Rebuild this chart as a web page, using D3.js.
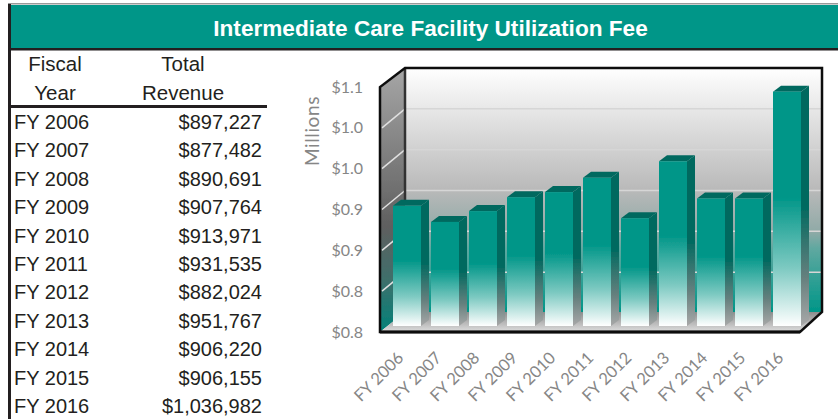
<!DOCTYPE html>
<html>
<head>
<meta charset="utf-8">
<script src="https://cdn.jsdelivr.net/npm/d3@7"></script>
<style>
html, body { margin: 0; padding: 0; background: #fff; }
svg { display: block; }
.cell { font-family: "Liberation Sans", Arial, sans-serif; font-size: 20px; fill: #231f20; }
.head { font-size: 20.5px; }
.axis-text { font-family: Lato, "Open Sans", sans-serif; fill: #868686; }
</style>
</head>
<body>
<svg id="chart" width="838" height="419"></svg>
<script>
var years = ["FY 2006", "FY 2007", "FY 2008", "FY 2009", "FY 2010", "FY 2011", "FY 2012", "FY 2013", "FY 2014", "FY 2015", "FY 2016"];
var revenue = [897227, 877482, 890691, 907764, 913971, 931535, 882024, 951767, 906220, 906155, 1036982];
var tickValues = [0.75, 0.80, 0.85, 0.90, 0.95, 1.00, 1.05];
var tickLabels = ["$0.8", "$0.8", "$0.9", "$0.9", "$1.0", "$1.0", "$1.1"];

var svg = d3.select("#chart");
var defs = svg.append("defs");

function gradient(id, stops) {
    var g = defs.append("linearGradient")
        .attr("id", id)
        .attr("x1", 0).attr("y1", 0).attr("x2", 0).attr("y2", 1);
    stops.forEach(function(s) {
        g.append("stop").attr("offset", s[0]).attr("stop-color", s[1]);
    });
}

gradient("bar-front", [[0, "#009688"], [0.45, "#009688"], [0.75, "#7cc9c1"], [1, "#ffffff"]]);
gradient("bar-side", [[0, "#00695f"], [0.5, "#00695f"], [0.8, "#66807e"], [1, "#a8a8a8"]]);
gradient("back-wall", [[0, "#ffffff"], [0.5, "#b9b9b9"], [0.67, "#90aaa7"], [0.74, "#5fa8a0"], [1, "#009688"]]);
gradient("left-wall", [[0, "#a6a6a6"], [0.6, "#5f5f5f"], [0.8, "#3f6f6b"], [1, "#008279"]]);
gradient("floor", [[0, "#8c8c8c"], [1, "#dedede"]]);
defs.append("filter").attr("id", "soft")
    .append("feGaussianBlur").attr("stdDeviation", 0.45);

// title band
svg.append("rect").attr("x", 8).attr("y", 3).attr("width", 830).attr("height", 1.5).attr("fill", "#999");
svg.append("rect").attr("x", 8).attr("y", 4).attr("width", 3).attr("height", 415).attr("fill", "#231f20");
svg.append("rect").attr("x", 11).attr("y", 5).attr("width", 827).attr("height", 43).attr("fill", "#009688");
svg.append("rect").attr("x", 8).attr("y", 48).attr("width", 830).attr("height", 2.5).attr("fill", "#231f20");
svg.append("text")
    .attr("x", 430.5).attr("y", 36)
    .attr("text-anchor", "middle")
    .attr("font-family", "Liberation Sans, Arial, sans-serif")
    .attr("font-weight", "bold")
    .attr("font-size", 22.6)
    .attr("fill", "#fff")
    .text("Intermediate Care Facility Utilization Fee");

// table
var headers = [["Fiscal", 55, 71], ["Year", 55, 100], ["Total", 183, 71], ["Revenue", 183, 100]];
svg.selectAll(".head").data(headers).enter().append("text")
    .attr("class", "cell head")
    .attr("x", function(d) { return d[1]; })
    .attr("y", function(d) { return d[2]; })
    .attr("text-anchor", "middle")
    .text(function(d) { return d[0]; });
svg.append("rect").attr("x", 11).attr("y", 105).attr("width", 256).attr("height", 3).attr("fill", "#231f20");

var rowY = d3.scalePoint().domain(years).range([129, 413]);
var money = d3.format("$,");
svg.selectAll(".year").data(years).enter().append("text")
    .attr("class", "cell year")
    .attr("x", 14)
    .attr("y", function(d) { return rowY(d); })
    .text(function(d) { return d; });
svg.selectAll(".rev").data(revenue).enter().append("text")
    .attr("class", "cell rev")
    .attr("x", 262)
    .attr("y", function(d, i) { return rowY(years[i]); })
    .attr("text-anchor", "end")
    .text(function(d) { return money(d); });

// 3d chart
var frontLeft = 380, frontRight = 800, frontTop = 87, frontBottom = 332;
var depthX = 25, depthY = 19;
var barDepthX = 8, barDepthY = 6;
var barBase = 326;
var barWidth = 28;
var x = d3.scalePoint().domain(years).range([393, 773]);
var y = d3.scaleLinear().domain([0.75, 1.05]).range([frontBottom, frontTop]);
var yBar = d3.scaleLinear().domain([0.75, 1.05]).range([barBase, barBase - (frontBottom - frontTop)]);

var plot = svg.append("g").attr("filter", "url(#soft)");

function poly(points, fill) {
    return plot.append("polygon")
        .attr("points", points.map(function(p) { return p.join(","); }).join(" "))
        .attr("fill", fill);
}

var backLeft = frontLeft + depthX, backRight = frontRight + depthX - 3;
var backTop = frontTop - depthY, backBottom = frontBottom - depthY - 1;

poly([[backLeft, backTop], [backRight, backTop], [backRight, backBottom], [backLeft, backBottom]], "url(#back-wall)");
poly([[frontLeft, frontTop], [backLeft, backTop], [backLeft, backBottom], [frontLeft, frontBottom]], "url(#left-wall)");
poly([[frontLeft, frontBottom], [backLeft, backBottom], [backRight, backBottom], [frontRight, frontBottom]], "url(#floor)");

// gridlines on walls
tickValues.slice(1, -1).forEach(function(t) {
    var yy = y(t);
    plot.append("line")
        .attr("x1", frontLeft + 2).attr("y1", yy)
        .attr("x2", backLeft).attr("y2", yy - depthY)
        .attr("stroke", "#e0e0e0").attr("stroke-width", 1.5);
    plot.append("line")
        .attr("x1", backLeft).attr("y1", yy - depthY)
        .attr("x2", backRight).attr("y2", yy - depthY)
        .attr("stroke", "#d6d6d6").attr("stroke-width", 1.5);
});

// frame behind the bars
plot.append("path")
    .attr("d", "M" + backLeft + "," + backTop + "V" + (backBottom - 112))
    .attr("fill", "none").attr("stroke", "#333").attr("stroke-width", 2.5);

revenue.forEach(function(v, i) {
    var left = x(years[i]), top = yBar(v / 1e6), right = left + barWidth;
    poly([[right, top], [right + barDepthX, top - barDepthY], [right + barDepthX, barBase - barDepthY], [right, barBase]], "url(#bar-side)");
    poly([[left, top], [left + barDepthX, top - barDepthY], [right + barDepthX, top - barDepthY], [right, top]], "#00695f");
    plot.append("rect")
        .attr("x", left).attr("y", top)
        .attr("width", barWidth).attr("height", barBase - top)
        .attr("fill", "url(#bar-front)");
});

// outer frame
plot.append("path")
    .attr("d", "M" + frontLeft + "," + frontBottom + "V" + frontTop + "L" + backLeft + "," + backTop + "H" + backRight + "V" + backBottom + "L" + frontRight + "," + frontBottom + "Z")
    .attr("fill", "none").attr("stroke", "#111").attr("stroke-width", 2.5);
plot.append("line")
    .attr("x1", frontLeft).attr("y1", frontBottom)
    .attr("x2", frontRight).attr("y2", frontBottom)
    .attr("stroke", "#111").attr("stroke-width", 3);

// axes
var yAxis = d3.axisLeft(y)
    .tickValues(tickValues)
    .tickSize(0)
    .tickPadding(17)
    .tickFormat(function(d, i) { return tickLabels[i]; });
var gy = svg.append("g").attr("transform", "translate(" + frontLeft + ",0)").call(yAxis);
gy.select(".domain").remove();
gy.selectAll("text").attr("class", "axis-text").attr("font-size", 16).attr("fill", null).attr("font-family", null);

var xAxis = d3.axisBottom(x).tickSize(0).tickPadding(0);
var gx = svg.append("g").attr("transform", "translate(0," + frontBottom + ")").call(xAxis);
gx.select(".domain").remove();
gx.selectAll("text")
    .attr("class", "axis-text")
    .attr("font-size", 16.5)
    .attr("fill", null)
    .attr("font-family", null)
    .attr("text-anchor", "end")
    .attr("dy", 0)
    .attr("transform", "translate(11,27) rotate(-45)");

svg.append("text")
    .attr("class", "axis-text")
    .attr("transform", "translate(319,131) rotate(-90)")
    .attr("text-anchor", "middle")
    .attr("font-size", 19)
    .attr("letter-spacing", 0.6)
    .text("Millions");
</script>
</body>
</html>
